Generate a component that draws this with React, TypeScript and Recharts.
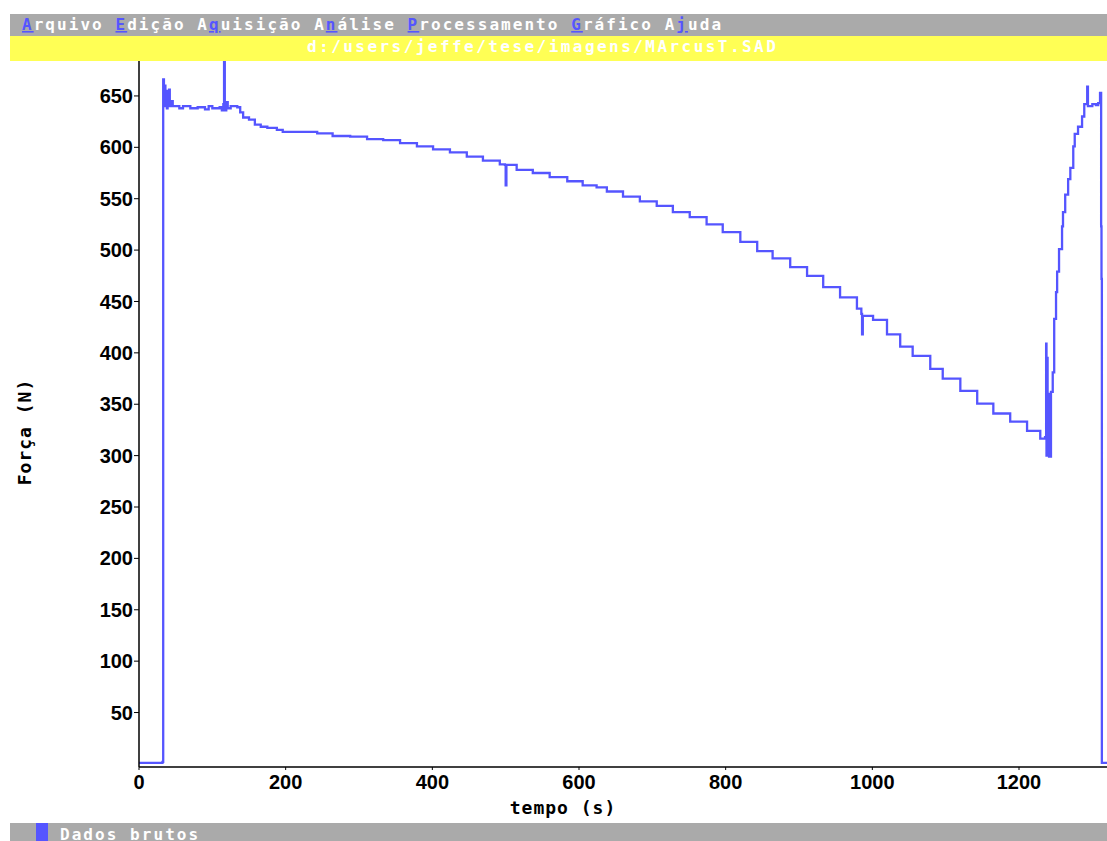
import React from 'react';
import { LineChart, Line, XAxis, YAxis } from 'recharts';

const menuItems = [
  { pre: '', hot: 'A', post: 'rquivo' },
  { pre: '', hot: 'E', post: 'dição' },
  { pre: 'A', hot: 'q', post: 'uisição' },
  { pre: 'A', hot: 'n', post: 'álise' },
  { pre: '', hot: 'P', post: 'rocessamento' },
  { pre: '', hot: 'G', post: 'ráfico' },
  { pre: 'A', hot: 'j', post: 'uda' },
];
const fileTitle = 'd:/users/jeffe/tese/imagens/MArcusT.SAD';
const xLabel = 'tempo (s)';
const yLabel = 'Força (N)';
const legendLabel = 'Dados brutos';

const xTicks = [0, 200, 400, 600, 800, 1000, 1200];
const yTicks = [50, 100, 150, 200, 250, 300, 350, 400, 450, 500, 550, 600, 650];

// tempo (s)
const tempo = [
  0, 30, 32, 33, 34, 35, 36, 37, 38, 39, 40, 41, 42, 44, 46, 55, 60, 70, 80, 90, 95, 100, 110, 113, 115, 116, 117, 119, 121, 125, 134, 138, 142, 150, 158, 166, 175, 188, 196,
  219, 243, 264, 288, 311, 333, 356, 379, 401, 424, 447, 469, 492, 499, 500, 501, 515, 537, 560, 584, 605, 624,
  638, 660, 683, 706, 728, 751, 774, 796, 820, 843, 864, 888, 911, 933, 956, 979, 985, 986, 987, 1001, 1020,
  1038, 1055, 1079, 1096, 1120, 1143, 1165, 1188, 1211, 1229, 1235.5, 1237, 1237.5, 1238, 1239, 1240, 1241,
  1243.6, 1246, 1248, 1250.5, 1252, 1254.6, 1258.7, 1260, 1263, 1267, 1270, 1274, 1276, 1280.5, 1286, 1289, 1293,
  1294, 1300, 1305, 1308, 1310.5, 1312, 1312.5, 1313, 1320,
];
// Força (N)
const forca = [
  1, 1, 2, 666, 640, 660, 645, 655, 638, 652, 642, 656, 640, 645, 640, 638, 640, 638, 639, 637, 640, 638, 639, 636, 642, 684, 636, 644, 638, 640, 639, 634, 629, 627, 622, 620, 619, 617, 615,
  615, 613.5, 611, 610.5, 608, 607, 604, 601, 598, 595, 591, 587, 583.5, 583, 563, 583, 578, 575, 571, 567, 563, 561,
  557, 552, 547.5, 543, 537, 532, 525, 517.5, 508, 499, 492, 483.5, 475, 464, 454, 443, 438, 418, 436, 432, 418,
  406, 397, 384.5, 375, 363, 350.5, 341, 333, 324, 316.5, 318, 409, 300, 395, 305, 360, 299,
  362, 381, 433, 459, 479, 501, 523, 537, 554, 569, 580, 601, 613, 620, 630, 642, 659,
  640, 642, 641, 643, 653, 523, 472, 1, 1,
];

const data = tempo.map((t, i) => ({ t, f: forca[i] }));

const BLUE = '#5555ff';
const GRAY = '#aaaaaa';
const YELLOW = '#ffff55';
const MONO = '"DejaVu Sans Mono", "Liberation Mono", monospace';
const TICKFONT = '"Liberation Sans", Arial, sans-serif';

export default function App() {
  return (
    <div style={{ position: 'absolute', left: 0, top: 0, width: 1107, height: 841, overflow: 'hidden', background: '#fff' }}>
      <div style={{ position: 'absolute', left: 0, top: 0 }}>
        <LineChart width={1107} height={841} data={data} margin={{ top: 61, right: 0, bottom: 0, left: 0 }}>
          <XAxis
            type="number"
            dataKey="t"
            domain={[0, 1320]}
            ticks={xTicks}
            allowDataOverflow
            height={74}
            tickSize={3}
            tickMargin={5}
            axisLine={{ stroke: '#000', strokeWidth: 1.5 }}
            tickLine={{ stroke: '#000' }}
            tick={{ fill: '#000', fontSize: 20, fontWeight: 'bold', fontFamily: TICKFONT }}
          />
          <YAxis
            type="number"
            domain={[-3, 684]}
            ticks={yTicks}
            allowDataOverflow
            width={139}
            tickSize={5}
            tickMargin={1}
            axisLine={{ stroke: '#000', strokeWidth: 1.5 }}
            tickLine={{ stroke: '#000' }}
            tick={{ fill: '#000', fontSize: 20, fontWeight: 'bold', fontFamily: TICKFONT }}
          />
          <Line
            type="stepAfter"
            dataKey="f"
            stroke={BLUE}
            strokeWidth={2.3}
            dot={false}
            isAnimationActive={false}
          />
        </LineChart>
      </div>
      <svg width={1107} height={841} style={{ position: 'absolute', left: 0, top: 0, pointerEvents: 'none' }}>
        <rect x={10} y={14} width={1097} height={22} fill={GRAY} />
        <rect x={10} y={36} width={1097} height={25} fill={YELLOW} />
        <text x={22} y={30} fontFamily={MONO} fontSize={16} fontWeight="bold" letterSpacing={2.05} fill="#fff">
          {menuItems.map((m, i) => (
            <React.Fragment key={i}>
              {i > 0 ? ' ' : ''}
              {m.pre}
              <tspan fill={BLUE} textDecoration="underline">{m.hot}</tspan>
              {m.post}
            </React.Fragment>
          ))}
        </text>
        <text x={307} y={52} fontFamily={MONO} fontSize={16} fontWeight="bold" letterSpacing={2.45} fill="#fff">
          {fileTitle}
        </text>
        <text x={0} y={0} transform="translate(31,432) rotate(-90)" textAnchor="middle" fontFamily={MONO} fontSize={18} fontWeight="bold" letterSpacing={1} fill="#000">
          {yLabel}
        </text>
        <text x={563} y={814} textAnchor="middle" fontFamily={MONO} fontSize={18} fontWeight="bold" letterSpacing={1} fill="#000">
          {xLabel}
        </text>
        <rect x={10} y={823} width={1097} height={18} fill={GRAY} />
        <rect x={36} y={823} width={12} height={18} fill={BLUE} />
        <text x={60} y={840} fontFamily={MONO} fontSize={16} fontWeight="bold" letterSpacing={2.05} fill="#fff">
          {legendLabel}
        </text>
      </svg>
    </div>
  );
}
